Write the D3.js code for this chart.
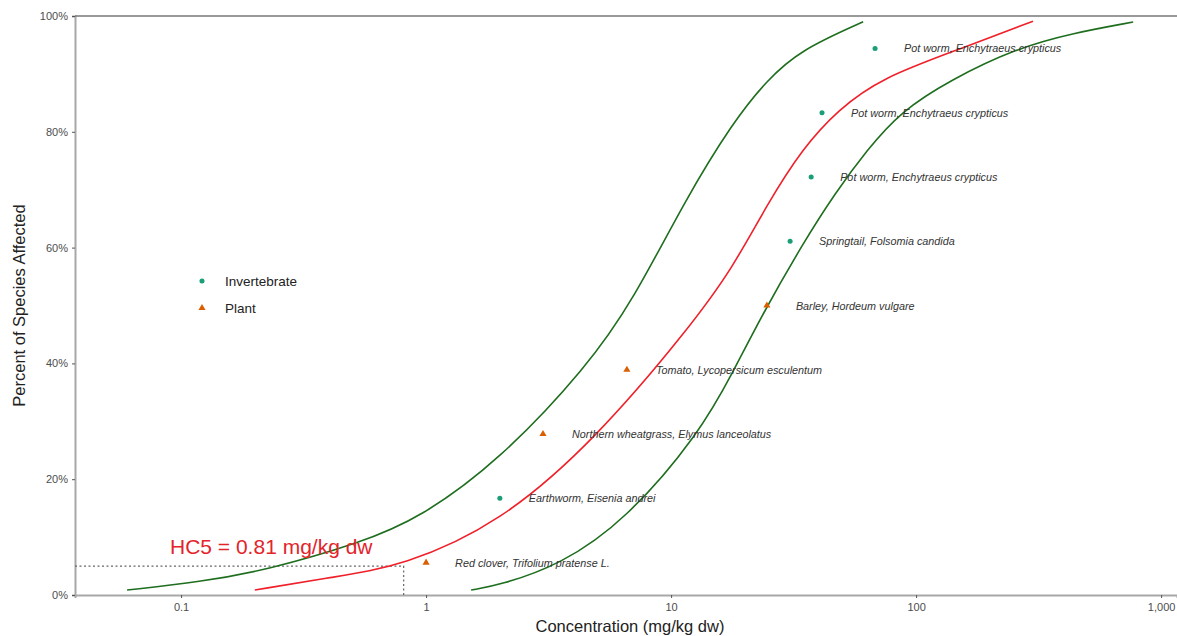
<!DOCTYPE html>
<html>
<head>
<meta charset="utf-8">
<script src="https://cdn.jsdelivr.net/npm/d3@7"></script>
<style>
  body { margin: 0; background: #fff; }
  svg { font-family: "Liberation Sans", Arial, sans-serif; }
</style>
</head>
<body>
<div id="container"></div>
<script>
/* CONSTANTS AND GLOBALS */
const width = 1177,
  height = 636,
  margin = { top: 16, right: 0, bottom: 41, left: 75 };

/* DATA */
const species = [
  "Red clover, Trifolium pratense L.",
  "Earthworm, Eisenia andrei",
  "Northern wheatgrass, Elymus lanceolatus",
  "Tomato, Lycopersicum esculentum",
  "Barley, Hordeum vulgare",
  "Springtail, Folsomia candida",
  "Pot worm, Enchytraeus crypticus",
  "Pot worm, Enchytraeus crypticus",
  "Pot worm, Enchytraeus crypticus"
];
const groups = ["Plant", "Invertebrate", "Plant", "Plant", "Plant",
  "Invertebrate", "Invertebrate", "Invertebrate", "Invertebrate"];
const conc = [1.0, 2.0, 3.0, 6.6, 24.6, 30.6, 37.3, 41.3, 68];
const pct = [0.056, 0.167, 0.278, 0.389, 0.5, 0.611, 0.722, 0.833, 0.944];

// fitted curve
const fitConc = [0.20, 0.417, 0.806, 2.0, 4.9, 11.96, 17.9, 24.6, 34.5, 48.0, 72.0, 151, 300];
const fitPct = [0.0086, 0.031, 0.05, 0.124, 0.268, 0.463, 0.566, 0.674, 0.772, 0.838, 0.893, 0.943, 0.991];

// confidence band, left curve
const loConc = [0.0602, 0.1196, 0.2244, 0.538, 0.945, 2.0, 4.54, 7.0, 11.4, 17.9, 24.6, 33.6, 60.8];
const loPct = [0.0086, 0.0225, 0.0432, 0.0898, 0.133, 0.233, 0.394, 0.509, 0.682, 0.817, 0.889, 0.941, 0.99];

// confidence band, right curve
const hiConc = [1.527, 2.0, 3.52, 6.55, 13.1, 17.9, 23.5, 34.6, 46.7, 63.1, 86.0, 137.7, 258, 437, 769];
const hiPct = [0.0086, 0.0173, 0.0518, 0.1295, 0.28, 0.385, 0.4836, 0.608, 0.694, 0.7686, 0.834, 0.8895, 0.9447, 0.9706, 0.9896];

const hc5 = 0.81;
const hc5Pct = 0.05;
const xTicks = [0.1, 1, 10, 100, 1000];
const yTicks = [0, 0.2, 0.4, 0.6, 0.8, 1];
const legendItems = ["Invertebrate", "Plant"];

const colors = { Invertebrate: "#1b9e77", Plant: "#d95f02" };

const points = species.map((s, i) => ({ species: s, group: groups[i], conc: conc[i], pct: pct[i] }));
const toLine = (cs, ps) => cs.map((c, i) => ({ conc: c, pct: ps[i] }));

// SCALES
const xScale = d3.scaleLog()
  .domain([0.0369, 1161])
  .range([margin.left, width - margin.right]);

const yScale = d3.scaleLinear()
  .domain([0, 1])
  .range([height - margin.bottom, margin.top]);

// CREATE SVG ELEMENT
const svg = d3.select("#container")
  .append("svg")
  .attr("width", width)
  .attr("height", height);

// AXES
const xAxis = svg.append("g")
  .attr("class", "x-axis")
  .attr("transform", `translate(0,${height - margin.bottom})`)
  .call(d3.axisBottom(xScale).tickValues(xTicks).tickFormat(d3.format(",")).tickSize(3).tickPadding(5));

const yAxis = svg.append("g")
  .attr("class", "y-axis")
  .attr("transform", `translate(${margin.left},0)`)
  .call(d3.axisLeft(yScale).tickValues(yTicks).tickFormat(d3.format(".0%")).tickSize(3).tickPadding(4));

[xAxis, yAxis].forEach(g => {
  g.select(".domain").attr("stroke", "#a8a8a8").attr("stroke-width", 2);
  g.selectAll(".tick line").attr("stroke", "#555");
  g.selectAll("text").attr("fill", "#4d4d4d").style("font-size", "11px");
});

// top border line
svg.append("line")
  .attr("x1", margin.left).attr("x2", width)
  .attr("y1", yScale(1)).attr("y2", yScale(1))
  .attr("stroke", "#777").attr("stroke-width", 1.3);

// axis titles
svg.append("text")
  .attr("x", 630)
  .attr("y", 632)
  .attr("text-anchor", "middle")
  .attr("fill", "#222")
  .style("font-size", "16.5px")
  .text("Concentration (mg/kg dw)");

svg.append("text")
  .attr("transform", `translate(25,${(yScale(0) + yScale(1)) / 2}) rotate(-90)`)
  .attr("text-anchor", "middle")
  .attr("fill", "#222")
  .style("font-size", "16.5px")
  .text("Percent of Species Affected");

// HC5 guide lines
svg.append("path")
  .attr("d", `M${margin.left},${yScale(hc5Pct)}H${xScale(hc5)}V${yScale(0)}`)
  .attr("fill", "none")
  .attr("stroke", "#666")
  .attr("stroke-width", 1.2)
  .attr("stroke-dasharray", "2,2.5");

// LINE GENERATOR FUNCTION
const lineGen = d3.line()
  .x(d => xScale(d.conc))
  .y(d => yScale(d.pct))
  .curve(d3.curveBasis);

svg.selectAll(".band")
  .data([toLine(loConc, loPct), toLine(hiConc, hiPct)])
  .join("path")
  .attr("class", "band")
  .attr("fill", "none")
  .attr("stroke", "#1f6e1f")
  .attr("stroke-width", 1.6)
  .attr("d", d => lineGen(d));

svg.append("path")
  .attr("class", "fit")
  .attr("fill", "none")
  .attr("stroke", "#f0202a")
  .attr("stroke-width", 1.6)
  .attr("d", lineGen(toLine(fitConc, fitPct)));

// POINTS
const symbolFor = g => d3.symbol(g === "Plant" ? d3.symbolTriangle : d3.symbolCircle, g === "Plant" ? 22 : 20)();

svg.selectAll(".pt")
  .data(points)
  .join("path")
  .attr("class", "pt")
  .attr("transform", d => `translate(${xScale(d.conc)},${yScale(d.pct)})`)
  .attr("d", d => symbolFor(d.group))
  .attr("fill", d => colors[d.group]);

svg.selectAll(".lbl")
  .data(points)
  .join("text")
  .attr("class", "lbl")
  .attr("x", d => xScale(d.conc) + 29)
  .attr("y", d => yScale(d.pct) + 4)
  .attr("fill", "#333")
  .style("font-size", "10.8px")
  .style("font-style", "italic")
  .text(d => d.species);

// HC5 label
svg.append("text")
  .attr("x", 170)
  .attr("y", 554)
  .attr("fill", "#e3242b")
  .style("font-size", "21px")
  .text(`HC5 = ${hc5} mg/kg dw`);

// LEGEND
const legend = svg.append("g")
  .attr("transform", "translate(202,281)");

legend.selectAll("path")
  .data(legendItems)
  .join("path")
  .attr("transform", (d, i) => `translate(0,${i * 27})`)
  .attr("d", d => symbolFor(d))
  .attr("fill", d => colors[d]);

legend.selectAll("text")
  .data(legendItems)
  .join("text")
  .attr("x", 23)
  .attr("y", (d, i) => i * 27 + 5)
  .attr("fill", "#222")
  .style("font-size", "13.5px")
  .text(d => d);
</script>
</body>
</html>
